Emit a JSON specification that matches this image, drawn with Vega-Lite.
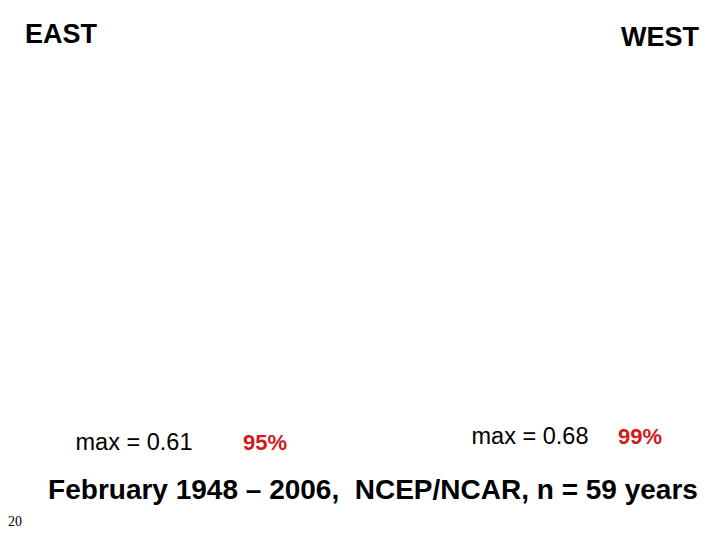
{
  "$schema": "https://vega.github.io/schema/vega-lite/v6.json",
  "width": 720,
  "height": 540,
  "padding": 0,
  "autosize": {"type": "none"},
  "background": "white",
  "config": {
    "view": {"stroke": null},
    "text": {"font": "Liberation Sans", "baseline": "alphabetic"}
  },
  "datasets": {
    "regions": [
      {"region": "EAST", "max": 0.61, "level": "95%"},
      {"region": "WEST", "max": 0.68, "level": "99%"}
    ],
    "notes": [
      {"part": "source", "text": "February 1948 – 2006,\u00a0 NCEP/NCAR, n = 59 years"},
      {"part": "page", "text": "20"}
    ]
  },
  "layer": [
    {
      "data": {"name": "regions"},
      "mark": {"type": "text", "fontSize": 27, "fontWeight": "bold", "align": "center", "color": "black"},
      "encoding": {
        "x": {"field": "region", "type": "nominal", "axis": null,
              "scale": {"type": "point", "domain": ["EAST", "WEST"], "range": [61, 660], "padding": 0}},
        "y": {"field": "region", "type": "nominal", "axis": null,
              "scale": {"type": "point", "domain": ["EAST", "WEST"], "range": [43, 46], "padding": 0}},
        "text": {"field": "region"}
      }
    },
    {
      "data": {"name": "regions"},
      "transform": [{"calculate": "'max = ' + format(datum.max, '.2f')", "as": "label"}],
      "mark": {"type": "text", "fontSize": 23.5, "align": "center", "color": "black"},
      "encoding": {
        "x": {"field": "region", "type": "nominal", "axis": null,
              "scale": {"type": "point", "domain": ["EAST", "WEST"], "range": [134, 530], "padding": 0}},
        "y": {"field": "region", "type": "nominal", "axis": null,
              "scale": {"type": "point", "domain": ["EAST", "WEST"], "range": [450, 444], "padding": 0}},
        "text": {"field": "label"}
      }
    },
    {
      "data": {"name": "regions"},
      "mark": {"type": "text", "fontSize": 22, "fontWeight": "bold", "align": "center", "color": "#d01c1c"},
      "encoding": {
        "x": {"field": "region", "type": "nominal", "axis": null,
              "scale": {"type": "point", "domain": ["EAST", "WEST"], "range": [265, 640], "padding": 0}},
        "y": {"field": "region", "type": "nominal", "axis": null,
              "scale": {"type": "point", "domain": ["EAST", "WEST"], "range": [450, 444], "padding": 0}},
        "text": {"field": "level"}
      }
    },
    {
      "data": {"name": "notes"},
      "transform": [{"filter": "datum.part === 'source'"}],
      "mark": {"type": "text", "fontSize": 28, "fontWeight": "bold", "align": "center", "color": "black"},
      "encoding": {
        "x": {"field": "part", "type": "nominal", "axis": null,
              "scale": {"type": "point", "domain": ["source"], "range": [373, 373], "padding": 0}},
        "y": {"field": "part", "type": "nominal", "axis": null,
              "scale": {"type": "point", "domain": ["source"], "range": [499, 499], "padding": 0}},
        "text": {"field": "text"}
      }
    },
    {
      "data": {"name": "notes"},
      "transform": [{"filter": "datum.part === 'page'"}],
      "mark": {"type": "text", "fontSize": 14, "font": "Liberation Serif", "align": "left", "color": "black"},
      "encoding": {
        "x": {"field": "part", "type": "nominal", "axis": null,
              "scale": {"type": "point", "domain": ["page"], "range": [8, 8], "padding": 0}},
        "y": {"field": "part", "type": "nominal", "axis": null,
              "scale": {"type": "point", "domain": ["page"], "range": [526, 526], "padding": 0}},
        "text": {"field": "text"}
      }
    }
  ],
  "resolve": {"scale": {"x": "independent", "y": "independent"}}
}
